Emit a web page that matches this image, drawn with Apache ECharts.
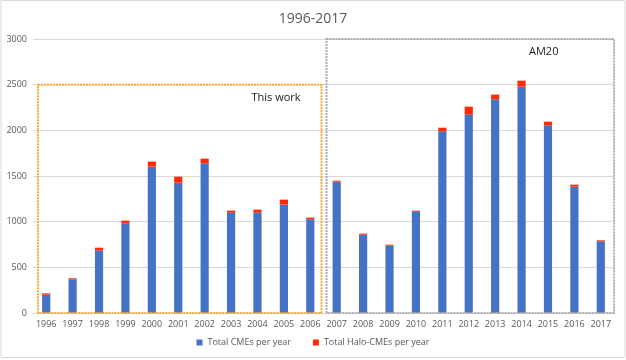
<!DOCTYPE html>
<html>
<head>
<meta charset="utf-8">
<script src="https://cdn.jsdelivr.net/npm/echarts@6/dist/echarts.min.js"></script>
<style>
  html, body { margin: 0; padding: 0; background: #fff; }
  #chart { width: 626px; height: 360px; }
</style>
</head>
<body>
<div id="chart"></div>
<script>
const years = ["1996", "1997", "1998", "1999", "2000", "2001", "2002", "2003", "2004", "2005", "2006",
  "2007", "2008", "2009", "2010", "2011", "2012", "2013", "2014", "2015", "2016", "2017"];
// blue part of each bar
const totalCMEs = [200, 369, 683, 982, 1602, 1427, 1639, 1099, 1099, 1186, 1026,
  1438, 858, 737, 1113, 1989, 2172, 2340, 2478, 2055, 1383, 785];
// red cap stacked on top
const haloCMEs = [15, 11, 32, 29, 55, 66, 51, 22, 33, 55, 18,
  11, 11, 11, 8, 40, 87, 51, 66, 40, 22, 11];
const yTicks = [0, 500, 1000, 1500, 2000, 2500, 3000];

const chart = echarts.init(document.getElementById("chart"));

const option = {
  animation: false,
  backgroundColor: "#fff",
  title: {
    text: "1996-2017",
    left: "center",
    top: 7,
    textStyle: { color: "#595959", fontSize: 14, fontWeight: "normal", fontFamily: "Open Sans" }
  },
  grid: { left: 33, right: 12, top: 39, bottom: 47 },
  legend: {
    bottom: 8,
    left: "center",
    itemWidth: 6,
    itemHeight: 6,
    itemGap: 22,
    icon: "rect",
    textStyle: { color: "#595959", fontSize: 9, fontFamily: "Open Sans" },
    data: ["Total CMEs per year", "Total Halo-CMEs per year"]
  },
  xAxis: {
    type: "category",
    data: years,
    axisLine: { lineStyle: { color: "#D9D9D9" } },
    axisTick: { show: false },
    axisLabel: { color: "#595959", fontSize: 9, margin: 7, interval: 0, fontFamily: "Open Sans" }
  },
  yAxis: {
    type: "value",
    min: yTicks[0],
    max: yTicks[yTicks.length - 1],
    interval: 500,
    axisLine: { show: false },
    axisTick: { show: false },
    axisLabel: { color: "#595959", fontSize: 9, margin: 6, fontFamily: "Open Sans", formatter: v => String(v) },
    splitLine: { lineStyle: { color: "#D9D9D9", width: 1 } }
  },
  series: [
    {
      name: "Total CMEs per year",
      type: "bar",
      stack: "cme",
      data: totalCMEs,
      barWidth: "31%",
      itemStyle: { color: "#4472C4" }
    },
    {
      name: "Total Halo-CMEs per year",
      type: "bar",
      stack: "cme",
      data: haloCMEs,
      barWidth: "31%",
      itemStyle: { color: "#FF2A00" }
    }
  ]
};
chart.setOption(option);

// annotation boxes placed from the axis scales
function drawBoxes() {
  const toPx = (cat, val) => chart.convertToPixel({ gridIndex: 0 }, [cat, val]);
  const half = (toPx("1997", 0)[0] - toPx("1996", 0)[0]) / 2;
  const a0 = toPx("1996", 0), a1 = toPx("2006", 2500);
  const b0 = toPx("2007", 0), b1 = toPx("2017", 3000);
  const oLeft = a0[0] - half + 5, oRight = a1[0] + half - 2;
  const gLeft = b0[0] - half + 3, gRight = b1[0] + half;
  chart.setOption({
    graphic: [
      {
        type: "rect",
        shape: { x: oLeft, y: a1[1], width: oRight - oLeft, height: a0[1] - a1[1] },
        style: { fill: "none", stroke: "#F5A93A", lineWidth: 2, lineDash: [2, 1] },
        z: 10
      },
      {
        type: "rect",
        shape: { x: gLeft, y: b1[1], width: gRight - gLeft, height: b0[1] - b1[1] },
        style: { fill: "none", stroke: "#ABABAB", lineWidth: 2, lineDash: [2, 1] },
        z: 10
      },
      {
        type: "text",
        x: oRight - 70, y: a1[1] + 8,
        style: { text: "This work", fill: "#1a1a1a", fontSize: 11, fontFamily: "Open Sans" },
        z: 11
      },
      {
        type: "text",
        x: gRight - 85, y: b1[1] + 7,
        style: { text: "AM20", fill: "#1a1a1a", fontSize: 11, fontFamily: "Open Sans" },
        z: 11
      },
      {
        type: "rect",
        shape: { x: 1, y: 0.5, width: 624, height: 357 },
        style: { fill: "none", stroke: "#D9D9D9", lineWidth: 1 },
        silent: true
      }
    ]
  });
}
drawBoxes();
</script>
</body>
</html>
